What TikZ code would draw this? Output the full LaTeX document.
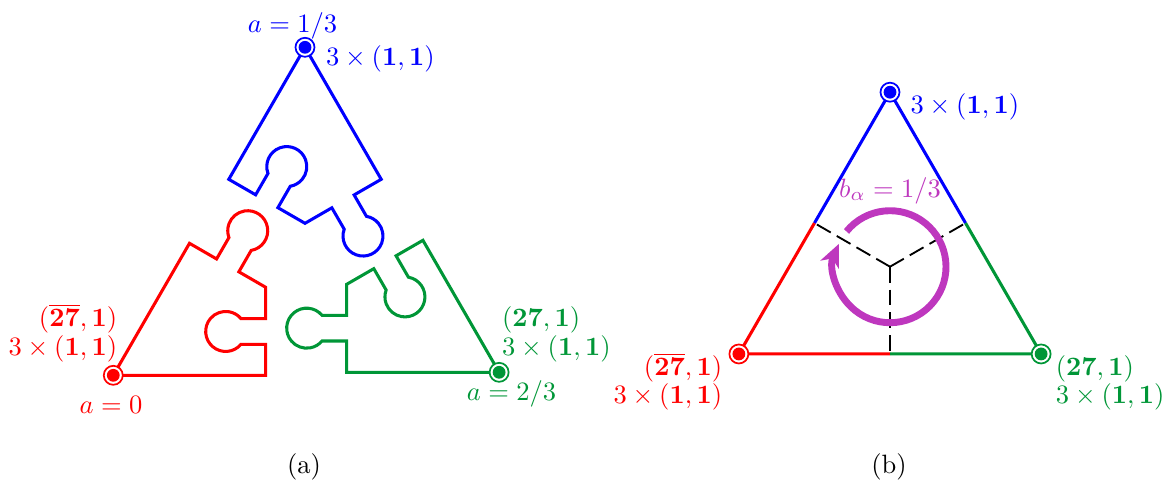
\documentclass[tikz,border=0pt]{standalone}
\usepackage{amsmath,amssymb}
\usepackage{tikz}
\usetikzlibrary{arrows.meta, positioning, calc}
\definecolor{tred}{RGB}{255,0,0}
\definecolor{tgreen}{RGB}{0,150,55}
\definecolor{tblue}{RGB}{0,0,255}
\definecolor{tpurple}{RGB}{190,55,190}

\begin{document}
\begin{tikzpicture}[
    x=0.377pt, y=0.377pt,
    piece/.style={draw=#1, line width=1.15pt},
    edge/.style={draw=#1, line width=1.15pt},
    cutline/.style={black, line width=0.7pt, dash pattern=on 6pt off 2.6pt},
    turn/.style={tpurple, line width=2.6pt, -{Stealth[length=8.5pt, width=7.5pt, inset=2.5pt]}},
    lbl/.style={text=#1, inner sep=0pt},
    caption/.style={inner sep=0pt}
]
\useasboundingbox (0,0) rectangle (1163,484);

% (a) the three pieces, pulled apart
\foreach \col/\rot/\cx/\cy/\nm in {tred/0/265.7/196.7/R, tblue/-120/305/260.7/B, tgreen/120/346.7/199.7/G}{
  \begin{scope}[shift={(\cx,\cy)}, rotate=\rot]
    \coordinate (a\nm) at (210:176);
    \draw[piece=\col] (210:176) -- (0,-88) -- ++(0,31) -- ++(-24.7,0)
      arc[start angle=-40, end angle=-320, radius=20] -- ++(24.7,0) -- (0,0)
      -- (150:31) -- ++(60:24.7) arc[start angle=-80, end angle=200, radius=20]
      -- ++(240:24.7) -- (150:88) -- cycle;
  \end{scope}
}

% (b) the glued triangle
\begin{scope}[shift={(890,217.3)}]
  \coordinate (bO) at (0,0);
  \coordinate (bB) at (90:174.5);
  \coordinate (bR) at (210:174.5);
  \coordinate (bG) at (330:174.5);
  \coordinate (mRB) at (150:87.25);
  \coordinate (mBG) at (30:87.25);
  \coordinate (mRG) at (270:87.25);
\end{scope}
\draw[edge=tblue] (mRB) -- (bB) -- (mBG);
\draw[edge=tred] (mRB) -- (bR) -- (mRG);
\draw[edge=tgreen] (mBG) -- (bG) -- (mRG);
\draw[cutline] (bO) -- (mRG);
\draw[cutline] (bO) -- (mRB);
\draw[cutline] (bO) -- (mBG);
\draw[turn] ([shift={(141:56)}]bO) arc[start angle=141, end angle=-204, radius=56];

% vertices
\foreach \nm/\col in {aR/tred, aG/tgreen, aB/tblue, bR/tred, bG/tgreen, bB/tblue}{
  \draw[\col, fill=white, line width=0.65pt] (\nm) circle[radius=9.5];
  \fill[\col] (\nm) circle[radius=6.4];
}

% labels (a)
\node[lbl=tblue, anchor=base] (aBcoup) at ($(aB)+(-12.5,14.6)$) {$a=1/3$};
\node[lbl=tblue, anchor=base west] (aBrep) at ($(aB)+(20.5,-17.7)$) {$3\times(\mathbf{1},\mathbf{1})$};
\node[lbl=tred, anchor=base east, align=right] (aRrep) at ($(aR)+(4.4,20.3)$) {$(\overline{\mathbf{27}},\mathbf{1})$\\[-1.25pt]$3\times(\mathbf{1},\mathbf{1})$};
\node[lbl=tred, anchor=base] (aRcoup) at ($(aR)+(-2.3,-38)$) {$a=0$};
\node[lbl=tgreen, anchor=base west, align=left] (aGrep) at ($(aG)+(2.4,17.3)$) {$(\mathbf{27},\mathbf{1})$\\[-1.25pt]$3\times(\mathbf{1},\mathbf{1})$};
\node[lbl=tgreen, anchor=base] (aGcoup) at ($(aG)+(12.4,-27.7)$) {$a=2/3$};

% labels (b)
\node[lbl=tblue, anchor=base west] (bBrep) at ($(bB)+(20,-20.8)$) {$3\times(\mathbf{1},\mathbf{1})$};
\node[lbl=tred, anchor=base east, align=right] (bRrep) at ($(bR)+(-16.2,-50)$) {$(\overline{\mathbf{27}},\mathbf{1})$\\[-1.25pt]$3\times(\mathbf{1},\mathbf{1})$};
\node[lbl=tgreen, anchor=base west, align=left] (bGrep) at ($(bG)+(14.2,-50)$) {$(\mathbf{27},\mathbf{1})$\\[-1.25pt]$3\times(\mathbf{1},\mathbf{1})$};
\node[lbl=tpurple, anchor=base] (flux) at ($(bO)+(0,69.7)$) {$b_\alpha=1/3$};

% captions
\node[caption, anchor=base] (capA) at (304,11) {(a)};
\node[caption, anchor=base] (capB) at (889,11) {(b)};
\end{tikzpicture}
\end{document}
